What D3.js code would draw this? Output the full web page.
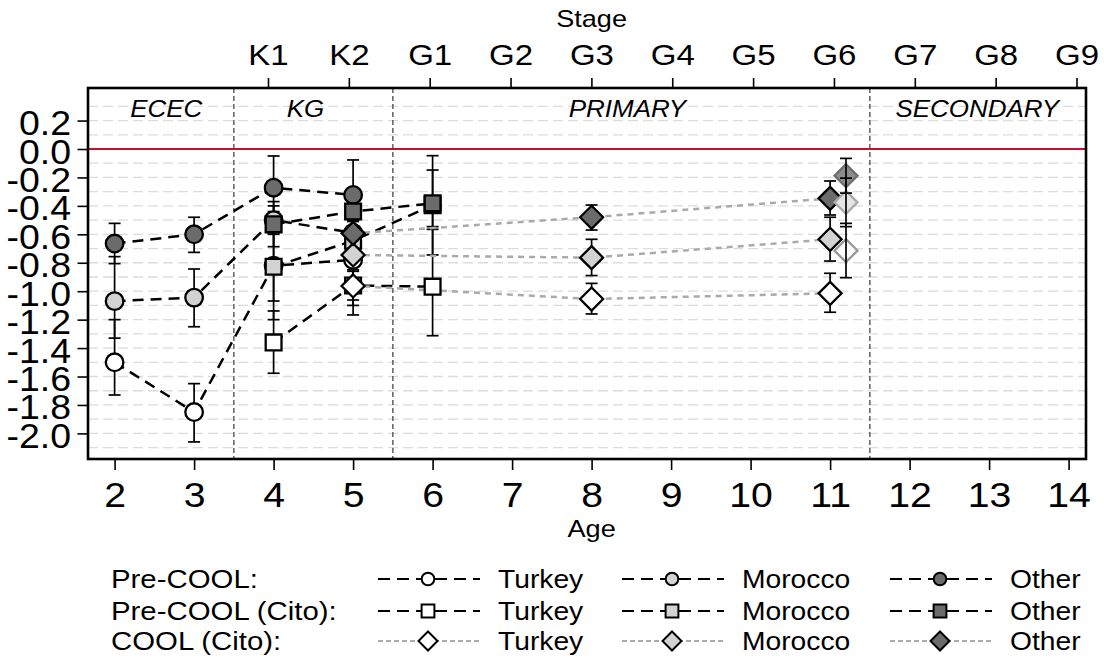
<!DOCTYPE html>
<html>
<head>
<meta charset="utf-8">
<script src="https://d3js.org/d3.v7.min.js"></script>
<style>
  body { margin: 0; background: #fff; }
  svg text { font-family: "Liberation Sans", Arial, Helvetica, sans-serif; fill: #000; }
</style>
</head>
<body>
<script>
// ---- data ----
var groups = ['Turkey', 'Morocco', 'Other'];
var stageLabels = ['K1', 'K2', 'G1', 'G2', 'G3', 'G4', 'G5', 'G6', 'G7', 'G8', 'G9'];
var stageAges = [4, 5, 6, 7, 8, 9, 10, 11, 12, 13, 14];
var ageTicks = [2, 3, 4, 5, 6, 7, 8, 9, 10, 11, 12, 13, 14];
var yTicks = [0.2, 0.0, -0.2, -0.4, -0.6, -0.8, -1.0, -1.2, -1.4, -1.6, -1.8, -2.0];
var sections = ['ECEC', 'KG', 'PRIMARY', 'SECONDARY'];
var sectionBreaks = [3.5, 5.5, 11.5];
var legendRows = ['Pre-COOL:', 'Pre-COOL (Cito):', 'COOL (Cito):'];

// Pre-COOL (circles)
var preAge = [2, 3, 4, 5];
var preTurkey    = [-1.50, -1.85, -0.82, -0.78];
var preTurkeyLo  = [-1.73, -2.06, -1.20, -1.10];
var preTurkeyHi  = [-1.20, -1.65, -0.44, -0.46];
var preMorocco   = [-1.07, -1.045, -0.50, -0.59];
var preMoroccoLo = [-1.33, -1.25, -0.60, -0.70];
var preMoroccoHi = [-0.757, -0.844, -0.40, -0.48];
var preOther     = [-0.665, -0.60, -0.272, -0.323];
var preOtherLo   = [-0.806, -0.727, -0.495, -0.57];
var preOtherHi   = [-0.523, -0.48, -0.049, -0.077];

// Pre-COOL (Cito) (squares)
var citoAge = [4, 5, 6];
var citoTurkey    = [-1.36, -0.96, -0.968];
var citoTurkeyLo  = [-1.577, -1.167, -1.313];
var citoTurkeyHi  = [-1.139, -0.75, -0.546];
var citoMorocco   = [-0.828, -0.645, -0.395];
var citoMoroccoLo = [-1.069, -0.78, -0.565];
var citoMoroccoHi = [-0.59, -0.51, -0.148];
var citoOther     = [-0.53, -0.44, -0.382];
var citoOtherLo   = [-0.687, -0.55, -0.745];
var citoOtherHi   = [-0.37, -0.33, -0.047];

// COOL (Cito) (diamonds)
var coolAge = [5, 8, 11];
var coolTurkey    = [-0.963, -1.055, -1.015];
var coolTurkeyLo  = [-1.062, -1.16, -1.148];
var coolTurkeyHi  = [-0.86, -0.945, -0.874];
var coolMorocco   = [-0.745, -0.764, -0.635];
var coolMoroccoLo = [-0.85, -0.89, -0.788];
var coolMoroccoHi = [-0.64, -0.635, -0.48];
var coolOther     = [-0.593, -0.48, -0.347];
var coolOtherLo   = [-0.68, -0.57, -0.464];
var coolOtherHi   = [-0.50, -0.394, -0.225];

// extra faded diamonds next to age 11
var shiftAge = 11.2;
var shiftMean = [-0.715, -0.375, -0.188];
var shiftLo   = [-0.905, -0.546, -0.31];
var shiftHi   = [-0.523, -0.205, -0.066];

// ---- layout ----
var W = 1104, H = 671;
var pl = 88, pr = 1086, pt = 88, pb = 459;
var fills = ['#ffffff', '#d2d2d2', '#6b6b6b'];
var SX = 1.13; // text in the picture is a bit wider than Arial

var x = d3.scaleLinear().domain([2, 14]).range([114.6, 1068.6]);
var xTop = d3.scaleLinear().domain([4, 14]).range([268, 1076.5]);
var y = d3.scaleLinear().domain([0, -2]).range([149, 433.4]);

var svg = d3.select('body').append('svg')
    .attr('width', W)
    .attr('height', H);

function pack(ages, m, lo, hi) {
    return ages.map(function (a, i) { return {age: a, v: m[i], lo: lo[i], hi: hi[i]}; });
}
var series = [
    {shape: 'circle', dash: 'pre', g: 0, pts: pack(preAge, preTurkey, preTurkeyLo, preTurkeyHi)},
    {shape: 'circle', dash: 'pre', g: 1, pts: pack(preAge, preMorocco, preMoroccoLo, preMoroccoHi)},
    {shape: 'circle', dash: 'pre', g: 2, pts: pack(preAge, preOther, preOtherLo, preOtherHi)},
    {shape: 'square', dash: 'pre', g: 0, pts: pack(citoAge, citoTurkey, citoTurkeyLo, citoTurkeyHi)},
    {shape: 'square', dash: 'pre', g: 1, pts: pack(citoAge, citoMorocco, citoMoroccoLo, citoMoroccoHi)},
    {shape: 'square', dash: 'pre', g: 2, pts: pack(citoAge, citoOther, citoOtherLo, citoOtherHi)},
    {shape: 'diamond', dash: 'cool', g: 0, pts: pack(coolAge, coolTurkey, coolTurkeyLo, coolTurkeyHi)},
    {shape: 'diamond', dash: 'cool', g: 1, pts: pack(coolAge, coolMorocco, coolMoroccoLo, coolMoroccoHi)},
    {shape: 'diamond', dash: 'cool', g: 2, pts: pack(coolAge, coolOther, coolOtherLo, coolOtherHi)}
];

function markerPath(shape, s) {
    if (shape === 'circle') {
        return 'M' + (-s) + ',0A' + s + ',' + s + ' 0 1,0 ' + s + ',0A' + s + ',' + s + ' 0 1,0 ' + (-s) + ',0Z';
    }
    if (shape === 'square') {
        return 'M' + (-s) + ',' + (-s) + 'H' + s + 'V' + s + 'H' + (-s) + 'Z';
    }
    return 'M0,' + (-s) + 'L' + s + ',0L0,' + s + 'L' + (-s) + ',0Z';
}
var plotSize = {circle: 8.8, square: 7.9, diamond: 11.5};
var legSize = {circle: 6.3, square: 6.4, diamond: 9.5};

// stretched text helper
function label(g, px, py, txt, size, anchor, italic) {
    return g.append('text')
        .attr('transform', 'translate(' + px + ',' + py + ') scale(' + SX + ',1)')
        .attr('text-anchor', anchor || 'start')
        .style('font-size', size + 'px')
        .style('font-style', italic ? 'italic' : 'normal')
        .text(txt);
}

// grid (every 0.1)
var gridVals = d3.range(-21, 4).map(function (i) { return i / 10; }).filter(function (v) { return Math.abs(v) > 1e-9; });
svg.append('g').selectAll('line')
    .data(gridVals)
    .enter().append('line')
    .attr('x1', pl).attr('x2', pr)
    .attr('y1', function (d) { return y(d); })
    .attr('y2', function (d) { return y(d); })
    .attr('stroke', '#dcdcdc')
    .attr('stroke-width', 1.3)
    .attr('stroke-dasharray', '10,5');

// section separators
svg.append('g').selectAll('line')
    .data(sectionBreaks)
    .enter().append('line')
    .attr('x1', function (d) { return x(d); })
    .attr('x2', function (d) { return x(d); })
    .attr('y1', pt).attr('y2', pb)
    .attr('stroke', '#555')
    .attr('stroke-width', 1.4)
    .attr('stroke-dasharray', '5,3');

// zero line
svg.append('line')
    .attr('x1', pl).attr('x2', pr)
    .attr('y1', y(0)).attr('y2', y(0))
    .attr('stroke', '#c8102e')
    .attr('stroke-width', 2);

// section labels
var secX = [2.65, 4.4, 8.45, 12.85];
var secG = svg.append('g');
sections.forEach(function (s, i) { label(secG, x(secX[i]), 117, s, 23, 'middle', true); });

// error bars
function drawBars(g, pts) {
    pts.forEach(function (p) {
        var cx = x(p.age);
        g.append('line').attr('x1', cx).attr('x2', cx).attr('y1', y(p.lo)).attr('y2', y(p.hi));
        g.append('line').attr('x1', cx - 6).attr('x2', cx + 6).attr('y1', y(p.lo)).attr('y2', y(p.lo));
        g.append('line').attr('x1', cx - 6).attr('x2', cx + 6).attr('y1', y(p.hi)).attr('y2', y(p.hi));
    });
}
var bars = svg.append('g').attr('stroke', '#000').attr('stroke-width', 1.7);
series.forEach(function (s) { drawBars(bars, s.pts); });

// connecting lines
var line = d3.line()
    .x(function (d) { return x(d.age); })
    .y(function (d) { return y(d.v); });
series.forEach(function (s) {
    svg.append('path')
        .datum(s.pts)
        .attr('fill', 'none')
        .attr('d', line)
        .attr('stroke', s.dash === 'pre' ? '#000' : '#aaaaaa')
        .attr('stroke-width', 2.5)
        .attr('stroke-dasharray', s.dash === 'pre' ? '11,7' : '6,5');
});

// markers
series.forEach(function (s) {
    svg.append('g').selectAll('path')
        .data(s.pts)
        .enter().append('path')
        .attr('transform', function (d) { return 'translate(' + x(d.age) + ',' + y(d.v) + ')'; })
        .attr('d', markerPath(s.shape, plotSize[s.shape]))
        .attr('fill', fills[s.g])
        .attr('stroke', '#000')
        .attr('stroke-width', 2.3);
});

// faded diamonds at 11.2
var shiftFill = ['#ffffff', '#e4e4e4', '#8c8c8c'];
var shiftStroke = ['#999', '#aaa', '#6e6e6e'];
var shiftPts = pack([shiftAge, shiftAge, shiftAge], shiftMean, shiftLo, shiftHi);
svg.append('g').selectAll('path')
    .data(shiftPts)
    .enter().append('path')
    .attr('transform', function (d) { return 'translate(' + x(d.age) + ',' + y(d.v) + ')'; })
    .attr('d', markerPath('diamond', plotSize.diamond))
    .attr('fill', function (d, i) { return shiftFill[i]; })
    .attr('stroke', function (d, i) { return shiftStroke[i]; })
    .attr('stroke-width', 2.3);
var bars2 = svg.append('g').attr('stroke', '#000').attr('stroke-width', 1.7);
drawBars(bars2, shiftPts);

// frame
svg.append('rect')
    .attr('x', pl).attr('y', pt)
    .attr('width', pr - pl).attr('height', pb - pt)
    .attr('fill', 'none')
    .attr('stroke', '#000')
    .attr('stroke-width', 2.6);

// axes
var yAxis = d3.axisLeft(y).tickValues(yTicks).tickSize(10.5).tickPadding(6)
    .tickFormat(function (d) { return d.toFixed(1); });
var gy = svg.append('g').attr('transform', 'translate(' + pl + ',0)').call(yAxis);
gy.select('.domain').remove();
gy.selectAll('line').attr('stroke-width', 1.6);
gy.selectAll('text').attr('dy', null).attr('x', null)
    .attr('transform', 'translate(-17,14) scale(1.07,1)')
    .style('font-size', '35px').style('font-family', '"Liberation Sans", Arial, sans-serif');

var xAxis = d3.axisBottom(x).tickValues(ageTicks).tickSize(11);
var gx = svg.append('g').attr('transform', 'translate(0,' + pb + ')').call(xAxis);
gx.select('.domain').remove();
gx.selectAll('line').attr('stroke-width', 1.6);
gx.selectAll('text').attr('dy', null).attr('y', null)
    .attr('transform', 'translate(0,48) scale(1.12,1)')
    .style('font-size', '35px').style('font-family', '"Liberation Sans", Arial, sans-serif');

var tAxis = d3.axisTop(xTop).tickValues(stageAges).tickSize(10)
    .tickFormat(function (d, i) { return stageLabels[i]; });
var gt = svg.append('g').attr('transform', 'translate(0,' + pt + ')').call(tAxis);
gt.select('.domain').remove();
gt.selectAll('line').attr('stroke-width', 1.6);
gt.selectAll('text').attr('dy', null).attr('y', null)
    .attr('transform', 'translate(0,-23) scale(1.1,1)')
    .style('font-size', '30px').style('font-family', '"Liberation Sans", Arial, sans-serif');

label(svg, x(8), 27, 'Stage', 24, 'middle');
label(svg, x(8), 537, 'Age', 24, 'middle');

// legend
var legY = [579, 611, 641];
var legMarkX = [428, 672, 940];
var legShapes = ['circle', 'square', 'diamond'];
var leg = svg.append('g');
legendRows.forEach(function (r, ri) {
    label(leg, 111, legY[ri] + 9, r, 26);
    groups.forEach(function (g, gi) {
        var mx = legMarkX[gi];
        leg.append('line')
            .attr('x1', mx - 50).attr('x2', mx + 52)
            .attr('y1', legY[ri]).attr('y2', legY[ri])
            .attr('stroke', ri < 2 ? '#000' : '#aaaaaa')
            .attr('stroke-width', 2.2)
            .attr('stroke-dasharray', ri < 2 ? '12,7' : '5,3');
        leg.append('path')
            .attr('transform', 'translate(' + mx + ',' + legY[ri] + ')')
            .attr('d', markerPath(legShapes[ri], legSize[legShapes[ri]]))
            .attr('fill', fills[gi])
            .attr('stroke', '#000')
            .attr('stroke-width', 2);
        label(leg, mx + 70, legY[ri] + 9, g, 25);
    });
});
</script>
</body>
</html>
